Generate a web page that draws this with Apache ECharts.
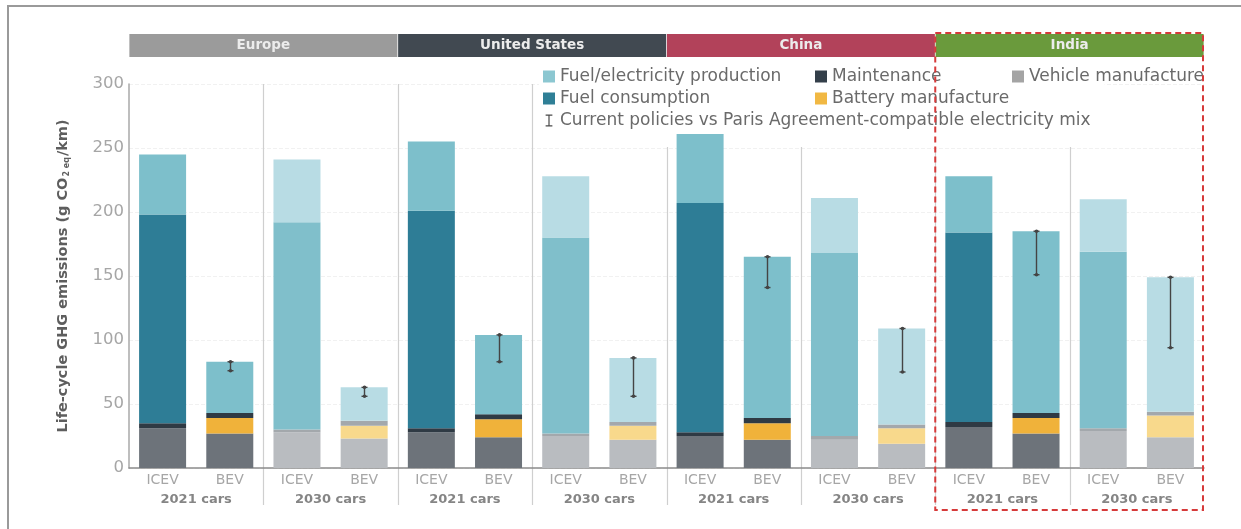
<!DOCTYPE html>
<html>
<head>
<meta charset="utf-8">
<script src="https://cdn.jsdelivr.net/npm/echarts@6/dist/echarts.min.js"></script>
<style>
  html, body { margin: 0; padding: 0; background: #fff; }
  #chart { width: 1241px; height: 529px; }
  #frame { position: absolute; left: 7px; top: 5px; right: 0; bottom: 0;
           border-left: 2px solid #9a9a9a; border-top: 2px solid #9a9a9a; pointer-events: none; }
</style>
</head>
<body>
<div id="chart"></div>
<div id="frame"></div>
<script>
// Life-cycle GHG emissions of ICEV and BEV cars by region (g CO2eq/km)
const regions = ['Europe', 'United States', 'China', 'India'];
const cohorts = ['2021 cars', '2030 cars', '2021 cars', '2030 cars', '2021 cars', '2030 cars', '2021 cars', '2030 cars'];
const categories = ['ICEV', 'BEV', 'ICEV', 'BEV', 'ICEV', 'BEV', 'ICEV', 'BEV',
                    'ICEV', 'BEV', 'ICEV', 'BEV', 'ICEV', 'BEV', 'ICEV', 'BEV'];
const yTicks = [0, 50, 100, 150, 200, 250, 300];

// Stack components, bottom to top
const vehicleManufacture = [31, 27, 28, 23, 28, 24, 25, 22, 25, 22, 22, 19, 32, 27, 29, 24];
const batteryManufacture = [0, 12, 0, 10, 0, 14, 0, 11, 0, 13, 0, 12, 0, 12, 0, 17];
const maintenance        = [4, 4, 2, 4, 3, 4, 2, 3, 3, 4, 3, 3, 4, 4, 2, 3];
const fuelConsumption    = [163, 0, 162, 0, 170, 0, 153, 0, 179, 0, 143, 0, 148, 0, 138, 0];
const fuelProduction     = [47, 40, 49, 26, 54, 62, 48, 50, 54, 126, 43, 75, 44, 142, 41, 105];

// Lower end of the electricity-mix range for BEVs (upper end is the bar total)
const parisLow = [null, 76, null, 56, null, 83, null, 56, null, 141, null, 75, null, 151, null, 94];

const FONT = 'DejaVu Sans';
const layers = [
  { name: 'Vehicle manufacture', values: vehicleManufacture, legend: '#a4a4a4', now: '#6d737a', later: '#b9bcc0' },
  { name: 'Battery manufacture', values: batteryManufacture, legend: '#f1b843', now: '#f0b23a', later: '#f8d98c' },
  { name: 'Maintenance', values: maintenance, legend: '#343f4a', now: '#2f3a44', later: '#a3a8ac' },
  { name: 'Fuel consumption', values: fuelConsumption, legend: '#2f7f96', now: '#2e7d96', later: '#80bfcb' },
  { name: 'Fuel/electricity production', values: fuelProduction, legend: '#8cc7d1', now: '#7dbfcb', later: '#b8dce4' }
];

const cohortOf = i => cohorts[Math.floor(i / 2)];

const barSeries = layers.map(l => ({
  name: l.name,
  type: 'bar',
  stack: 'total',
  xAxisIndex: 0,
  barWidth: 47,
  z: 2,
  itemStyle: { color: l.legend },
  data: l.values.map((v, i) => ({
    value: v,
    itemStyle: { color: cohortOf(i) === '2021 cars' ? l.now : l.later }
  }))
}));

const totals = categories.map((_, i) => layers.reduce((s, l) => s + l.values[i], 0));
const rangeData = parisLow
  .map((lo, i) => lo == null ? null : [i, lo, totals[i]])
  .filter(Boolean);

// Group dividers sit after every second category
const dividers = [];
for (let i = 1; i < categories.length - 1; i += 2) dividers.push([i]);

const chart = echarts.init(document.getElementById('chart'), null, { renderer: 'canvas' });

const bannerColors = ['#9b9b9b', '#414951', '#b2425a', '#6a9a3c'];
const bannerRich = {};
bannerColors.forEach((c, i) => {
  bannerRich['r' + i] = {
    backgroundColor: c, width: 268, height: 23, lineHeight: 23, align: 'center',
    color: '#ececec', fontWeight: 'bold', fontSize: 13.5, fontFamily: FONT
  };
});

const legendText = { color: '#6a6a6a', fontSize: 17, fontFamily: FONT };

chart.setOption({
  animation: false,
  textStyle: { fontFamily: FONT },
  grid: { left: 129, right: 37, top: 84, bottom: 61, containLabel: false },
  legend: [
    {
      left: 539, top: 62, orient: 'vertical', itemGap: 5, itemWidth: 12, itemHeight: 12,
      padding: [6, 14, 18, 4], backgroundColor: '#ffffff', z: 1,
      textStyle: legendText,
      data: [
        { name: 'Fuel/electricity production', icon: 'rect' },
        { name: 'Fuel consumption', icon: 'rect' },
        { name: 'Current policies vs Paris Agreement-compatible electricity mix',
          icon: 'path://M0,0H9V1.6H5.3V14.4H9V16H0V14.4H3.7V1.6H0Z' }
      ]
    },
    {
      left: 811, top: 62, orient: 'vertical', itemGap: 5, itemWidth: 12, itemHeight: 12,
      padding: [6, 4, 4, 4], z: 1,
      textStyle: legendText,
      data: [{ name: 'Maintenance', icon: 'rect' }, { name: 'Battery manufacture', icon: 'rect' }]
    },
    {
      left: 1008, top: 62, orient: 'vertical', itemWidth: 12, itemHeight: 12,
      padding: [6, 4, 4, 4], z: 1,
      textStyle: legendText,
      data: [{ name: 'Vehicle manufacture', icon: 'rect' }]
    }
  ],
  xAxis: [
    {
      type: 'category', data: categories, position: 'bottom',
      axisLine: { lineStyle: { color: '#8c8c8c', width: 1.5 } },
      axisTick: { show: false },
      axisLabel: { interval: 0, margin: 5, color: '#a6a6a6', fontSize: 14, fontFamily: FONT }
    },
    {
      type: 'category', data: cohorts, position: 'bottom',
      axisLine: { show: false }, axisTick: { show: false },
      axisLabel: { interval: 0, margin: 25, color: '#858585', fontSize: 13, fontWeight: 'bold', fontFamily: FONT }
    },
    {
      type: 'category', data: regions, position: 'top', offset: 27,
      axisLine: { show: false }, axisTick: { show: false },
      axisLabel: {
        interval: 0, margin: 0,
        formatter: (v, i) => '{r' + i + '|' + v + '}',
        rich: bannerRich
      }
    }
  ],
  yAxis: {
    type: 'value', min: yTicks[0], max: yTicks[yTicks.length - 1], interval: 50,
    name: '{t|Life-cycle GHG emissions (g CO}{s|2 eq}{t|/km)}',
    nameLocation: 'middle', nameGap: 58, nameRotate: 90,
    nameTextStyle: {
      rich: {
        t: { fontSize: 14.5, fontWeight: 'bold', color: '#5e5e5e', fontFamily: FONT },
        s: { fontSize: 8, fontWeight: 'bold', color: '#5e5e5e', fontFamily: FONT, verticalAlign: 'bottom', padding: [7, 1, 0, 1] }
      }
    },
    axisLine: { show: true, lineStyle: { color: '#a8a8a8', width: 1.5 } },
    axisTick: { show: false },
    axisLabel: { margin: 5, color: '#a6a6a6', fontSize: 16.5, fontFamily: FONT },
    splitLine: { lineStyle: { color: '#f1f1f1', type: 'dashed' } }
  },
  series: [
    {
      name: 'dividers', type: 'custom', xAxisIndex: 0, z: 0, silent: true,
      data: dividers,
      renderItem: (params, api) => {
        const top = api.coord([api.value(0), yTicks[yTicks.length - 1]]);
        const base = api.coord([api.value(0), 0]);
        const half = api.size([1, 0])[0] / 2;
        const x = Math.round(top[0] + half) + 0.5;
        return {
          type: 'line', silent: true,
          shape: { x1: x, y1: top[1], x2: x, y2: base[1] + 37 },
          style: { stroke: '#cfcfcf', lineWidth: 1.2 }
        };
      }
    },
    ...barSeries,
    {
      name: 'Current policies vs Paris Agreement-compatible electricity mix',
      type: 'custom', xAxisIndex: 0, z: 5,
      itemStyle: { color: '#4a4a4a' },
      data: rangeData,
      renderItem: (params, api) => {
        const lo = api.coord([api.value(0), api.value(1)]);
        const hi = api.coord([api.value(0), api.value(2)]);
        const x = Math.round(lo[0]) + 0.5;
        const st = { stroke: '#444', lineWidth: 1.4 };
        return {
          type: 'group',
          children: [
            { type: 'line', shape: { x1: x, y1: hi[1], x2: x, y2: lo[1] }, style: st },
            { type: 'line', shape: { x1: x - 3, y1: hi[1], x2: x + 3, y2: hi[1] }, style: st },
            { type: 'line', shape: { x1: x - 3, y1: lo[1], x2: x + 3, y2: lo[1] }, style: st },
            { type: 'circle', shape: { cx: x, cy: hi[1], r: 1.8 }, style: { fill: '#444' } },
            { type: 'circle', shape: { cx: x, cy: lo[1], r: 1.8 }, style: { fill: '#444' } }
          ]
        };
      }
    }
  ]
});

// Dashed highlight around the India region
const indiaX = chart.convertToPixel({ xAxisIndex: 2 }, 'India');
const chinaX = chart.convertToPixel({ xAxisIndex: 2 }, 'China');
const band = indiaX - chinaX;
chart.setOption({
  graphic: [{
    type: 'rect', z: 100, silent: true,
    shape: { x: indiaX - band / 2, y: 33, width: band - 1, height: 477 },
    style: { fill: 'none', stroke: '#d63a3a', lineWidth: 2, lineDash: [6, 4] }
  }]
});
</script>
</body>
</html>
